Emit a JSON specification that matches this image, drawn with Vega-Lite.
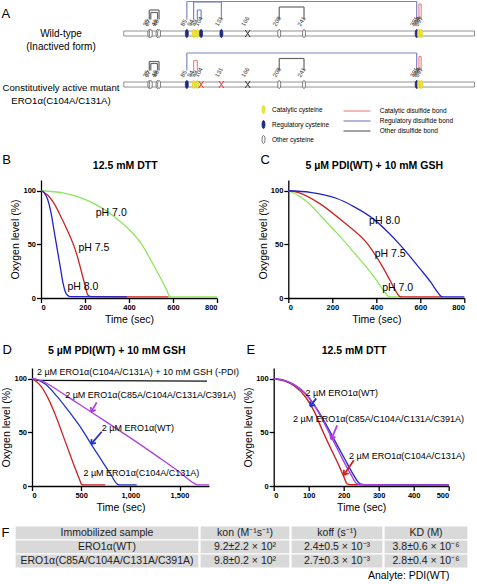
{
"$schema": "https://vega.github.io/schema/vega-lite/v6.json",
"padding": 0,
"config": {
  "font": "Liberation Sans",
  "view": {"stroke": null},
  "axis": {"domainColor": "#000", "domainWidth": 1.3, "tickColor": "#000", "tickWidth": 1.3, "tickSize": 4.5, "labelFontSize": 7.5, "labelFontWeight": "bold", "labelColor": "#000", "labelPadding": 1, "titleFontSize": 10.5, "titleFontWeight": "normal", "titleColor": "#000", "grid": false},
  "axisY": {"titlePadding": 2},
  "axisX": {"titlePadding": 3},
  "title": {"color": "#000"},
  "text": {"color": "#000"}
},
"datasets": {
  "protein": [{"row": "WT", "start": 1, "end": 468}, {"row": "Mut", "start": 1, "end": 468}],
  "cys": [
    {"row": "WT", "res": 35, "kind": "Other cysteine"}, {"row": "WT", "res": 37, "kind": "Other cysteine"}, {"row": "WT", "res": 46, "kind": "Other cysteine"}, {"row": "WT", "res": 48, "kind": "Other cysteine"},
    {"row": "WT", "res": 85, "kind": "Regulatory cysteine"}, {"row": "WT", "res": 94, "kind": "Catalytic cysteine"}, {"row": "WT", "res": 99, "kind": "Catalytic cysteine"}, {"row": "WT", "res": 104, "kind": "Regulatory cysteine"}, {"row": "WT", "res": 131, "kind": "Regulatory cysteine"},
    {"row": "WT", "res": 166, "kind": "Unpaired"}, {"row": "WT", "res": 208, "kind": "Other cysteine"}, {"row": "WT", "res": 241, "kind": "Other cysteine"},
    {"row": "WT", "res": 391, "kind": "Regulatory cysteine"}, {"row": "WT", "res": 394, "kind": "Catalytic cysteine"}, {"row": "WT", "res": 397, "kind": "Catalytic cysteine"},
    {"row": "Mut", "res": 35, "kind": "Other cysteine"}, {"row": "Mut", "res": 37, "kind": "Other cysteine"}, {"row": "Mut", "res": 46, "kind": "Other cysteine"}, {"row": "Mut", "res": 48, "kind": "Other cysteine"},
    {"row": "Mut", "res": 85, "kind": "Regulatory cysteine"}, {"row": "Mut", "res": 94, "kind": "Catalytic cysteine"}, {"row": "Mut", "res": 99, "kind": "Catalytic cysteine"}, {"row": "Mut", "res": 104, "kind": "Mutated"}, {"row": "Mut", "res": 131, "kind": "Mutated"},
    {"row": "Mut", "res": 166, "kind": "Unpaired"}, {"row": "Mut", "res": 208, "kind": "Other cysteine"}, {"row": "Mut", "res": 241, "kind": "Other cysteine"},
    {"row": "Mut", "res": 391, "kind": "Regulatory cysteine"}, {"row": "Mut", "res": 394, "kind": "Catalytic cysteine"}, {"row": "Mut", "res": 397, "kind": "Catalytic cysteine"}
  ],
  "bonds": [
    {"row": "WT", "from": 35, "to": 48, "h": 23.5, "bond": "Other disulfide bond"},
    {"row": "WT", "from": 37, "to": 46, "h": 21, "bond": "Other disulfide bond"},
    {"row": "WT", "from": 85, "to": 391, "h": 32, "bond": "Regulatory disulfide bond"},
    {"row": "WT", "from": 94, "to": 131, "h": 31.5, "bond": "Regulatory disulfide bond"},
    {"row": "WT", "from": 99, "to": 104, "h": 23.5, "bond": "Regulatory disulfide bond"},
    {"row": "WT", "from": 208, "to": 241, "h": 26.5, "bond": "Other disulfide bond"},
    {"row": "WT", "from": 394, "to": 397, "h": 29.5, "bond": "Catalytic disulfide bond"},
    {"row": "Mut", "from": 35, "to": 48, "h": 23, "bond": "Other disulfide bond"},
    {"row": "Mut", "from": 37, "to": 46, "h": 21, "bond": "Other disulfide bond"},
    {"row": "Mut", "from": 85, "to": 391, "h": 31.5, "bond": "Regulatory disulfide bond"},
    {"row": "Mut", "from": 94, "to": 99, "h": 24, "bond": "Catalytic disulfide bond"},
    {"row": "Mut", "from": 208, "to": 241, "h": 26, "bond": "Other disulfide bond"},
    {"row": "Mut", "from": 394, "to": 397, "h": 28, "bond": "Catalytic disulfide bond"}
  ],
  "curvesB": [
    {"s": "pH 7.0", "t": 0, "o2": 100}, {"s": "pH 7.0", "t": 100, "o2": 98}, {"s": "pH 7.0", "t": 200, "o2": 92}, {"s": "pH 7.0", "t": 276, "o2": 84}, {"s": "pH 7.0", "t": 350, "o2": 73}, {"s": "pH 7.0", "t": 400, "o2": 64}, {"s": "pH 7.0", "t": 458, "o2": 50}, {"s": "pH 7.0", "t": 500, "o2": 35}, {"s": "pH 7.0", "t": 540, "o2": 20}, {"s": "pH 7.0", "t": 570, "o2": 8}, {"s": "pH 7.0", "t": 586, "o2": 1.5}, {"s": "pH 7.0", "t": 600, "o2": 1}, {"s": "pH 7.0", "t": 800, "o2": 1},
    {"s": "pH 7.5", "t": 0, "o2": 100}, {"s": "pH 7.5", "t": 30, "o2": 96}, {"s": "pH 7.5", "t": 60, "o2": 88}, {"s": "pH 7.5", "t": 90, "o2": 76}, {"s": "pH 7.5", "t": 120, "o2": 63}, {"s": "pH 7.5", "t": 147, "o2": 50}, {"s": "pH 7.5", "t": 165, "o2": 39}, {"s": "pH 7.5", "t": 182, "o2": 26}, {"s": "pH 7.5", "t": 200, "o2": 12}, {"s": "pH 7.5", "t": 214, "o2": 2.5}, {"s": "pH 7.5", "t": 230, "o2": 1.2}, {"s": "pH 7.5", "t": 580, "o2": 1},
    {"s": "pH 8.0", "t": 0, "o2": 100}, {"s": "pH 8.0", "t": 15, "o2": 98}, {"s": "pH 8.0", "t": 30, "o2": 92}, {"s": "pH 8.0", "t": 45, "o2": 80}, {"s": "pH 8.0", "t": 60, "o2": 62}, {"s": "pH 8.0", "t": 70, "o2": 50}, {"s": "pH 8.0", "t": 80, "o2": 38}, {"s": "pH 8.0", "t": 90, "o2": 26}, {"s": "pH 8.0", "t": 100, "o2": 14}, {"s": "pH 8.0", "t": 110, "o2": 6}, {"s": "pH 8.0", "t": 120, "o2": 2.5}, {"s": "pH 8.0", "t": 135, "o2": 1.2}, {"s": "pH 8.0", "t": 390, "o2": 1}
  ],
  "labB": [{"t": 249, "o2": 79, "label": "pH 7.0"}, {"t": 170, "o2": 47, "label": "pH 7.5"}, {"t": 120, "o2": 10.5, "label": "pH 8.0"}],
  "curvesC": [
    {"s": "pH 7.0", "t": 0, "o2": 100}, {"s": "pH 7.0", "t": 50, "o2": 95}, {"s": "pH 7.0", "t": 100, "o2": 87}, {"s": "pH 7.0", "t": 150, "o2": 76}, {"s": "pH 7.0", "t": 200, "o2": 65}, {"s": "pH 7.0", "t": 250, "o2": 54}, {"s": "pH 7.0", "t": 300, "o2": 42}, {"s": "pH 7.0", "t": 350, "o2": 30}, {"s": "pH 7.0", "t": 400, "o2": 17}, {"s": "pH 7.0", "t": 440, "o2": 5}, {"s": "pH 7.0", "t": 455, "o2": 1.5}, {"s": "pH 7.0", "t": 470, "o2": 1}, {"s": "pH 7.0", "t": 520, "o2": 1},
    {"s": "pH 7.5", "t": 0, "o2": 100}, {"s": "pH 7.5", "t": 50, "o2": 98}, {"s": "pH 7.5", "t": 143, "o2": 88}, {"s": "pH 7.5", "t": 250, "o2": 71}, {"s": "pH 7.5", "t": 362, "o2": 50}, {"s": "pH 7.5", "t": 420, "o2": 32}, {"s": "pH 7.5", "t": 461, "o2": 17}, {"s": "pH 7.5", "t": 490, "o2": 6}, {"s": "pH 7.5", "t": 506, "o2": 1.5}, {"s": "pH 7.5", "t": 520, "o2": 1}, {"s": "pH 7.5", "t": 700, "o2": 1},
    {"s": "pH 8.0", "t": 0, "o2": 100}, {"s": "pH 8.0", "t": 100, "o2": 98.5}, {"s": "pH 8.0", "t": 218, "o2": 93}, {"s": "pH 8.0", "t": 300, "o2": 85}, {"s": "pH 8.0", "t": 385, "o2": 74}, {"s": "pH 8.0", "t": 450, "o2": 62}, {"s": "pH 8.0", "t": 506, "o2": 50}, {"s": "pH 8.0", "t": 560, "o2": 37}, {"s": "pH 8.0", "t": 600, "o2": 27}, {"s": "pH 8.0", "t": 650, "o2": 14}, {"s": "pH 8.0", "t": 680, "o2": 5}, {"s": "pH 8.0", "t": 695, "o2": 1.5}, {"s": "pH 8.0", "t": 710, "o2": 1}, {"s": "pH 8.0", "t": 800, "o2": 1}
  ],
  "labC": [{"t": 367, "o2": 72, "label": "pH 8.0"}, {"t": 393, "o2": 41, "label": "pH 7.5"}, {"t": 427, "o2": 9, "label": "pH 7.0"}],
  "curvesD": [
    {"s": "-PDI", "t": 0, "o2": 100}, {"s": "-PDI", "t": 60, "o2": 98.5}, {"s": "-PDI", "t": 1780, "o2": 97.8},
    {"s": "C104A/C131A", "t": 0, "o2": 100}, {"s": "C104A/C131A", "t": 50, "o2": 97}, {"s": "C104A/C131A", "t": 100, "o2": 92}, {"s": "C104A/C131A", "t": 168, "o2": 81}, {"s": "C104A/C131A", "t": 230, "o2": 68}, {"s": "C104A/C131A", "t": 304, "o2": 50}, {"s": "C104A/C131A", "t": 360, "o2": 36}, {"s": "C104A/C131A", "t": 420, "o2": 21}, {"s": "C104A/C131A", "t": 480, "o2": 7}, {"s": "C104A/C131A", "t": 505, "o2": 1.5}, {"s": "C104A/C131A", "t": 520, "o2": 1}, {"s": "C104A/C131A", "t": 745, "o2": 1},
    {"s": "WT", "t": 0, "o2": 100}, {"s": "WT", "t": 60, "o2": 99}, {"s": "WT", "t": 135, "o2": 95}, {"s": "WT", "t": 250, "o2": 84}, {"s": "WT", "t": 330, "o2": 75}, {"s": "WT", "t": 405, "o2": 66}, {"s": "WT", "t": 500, "o2": 54}, {"s": "WT", "t": 601, "o2": 39}, {"s": "WT", "t": 700, "o2": 25}, {"s": "WT", "t": 800, "o2": 11}, {"s": "WT", "t": 870, "o2": 1.5}, {"s": "WT", "t": 885, "o2": 1}, {"s": "WT", "t": 1065, "o2": 1},
    {"s": "C85A/C104A/C131A/C391A", "t": 0, "o2": 100}, {"s": "C85A/C104A/C131A/C391A", "t": 100, "o2": 98}, {"s": "C85A/C104A/C131A/C391A", "t": 200, "o2": 93}, {"s": "C85A/C104A/C131A/C391A", "t": 300, "o2": 87}, {"s": "C85A/C104A/C131A/C391A", "t": 400, "o2": 81}, {"s": "C85A/C104A/C131A/C391A", "t": 500, "o2": 75}, {"s": "C85A/C104A/C131A/C391A", "t": 601, "o2": 69}, {"s": "C85A/C104A/C131A/C391A", "t": 800, "o2": 57}, {"s": "C85A/C104A/C131A/C391A", "t": 1080, "o2": 40}, {"s": "C85A/C104A/C131A/C391A", "t": 1300, "o2": 26}, {"s": "C85A/C104A/C131A/C391A", "t": 1500, "o2": 13}, {"s": "C85A/C104A/C131A/C391A", "t": 1670, "o2": 1.5}, {"s": "C85A/C104A/C131A/C391A", "t": 1690, "o2": 1}, {"s": "C85A/C104A/C131A/C391A", "t": 1800, "o2": 1}
  ],
  "labD": [
    {"t": 50, "o2": 106, "label": "2 µM ERO1α(C104A/C131A) + 10 mM GSH (-PDI)"},
    {"t": 337, "o2": 85, "label": "2 µM ERO1α(C85A/C104A/C131A/C391A)"},
    {"t": 709, "o2": 53.8, "label": "2 µM ERO1α(WT)"},
    {"t": 523, "o2": 12, "label": "2 µM ERO1α(C104A/C131A)"}
  ],
  "arrD": [
    {"s": "C85A/C104A/C131A/C391A", "t": 658, "o2": 78, "t2": 601, "o22": 69},
    {"s": "C85A/C104A/C131A/C391A", "t": 601, "o2": 69, "t2": 647, "o22": 71},
    {"s": "C85A/C104A/C131A/C391A", "t": 601, "o2": 69, "t2": 597, "o22": 73.7},
    {"s": "WT", "t": 709, "o2": 50.6, "t2": 601, "o22": 39},
    {"s": "WT", "t": 601, "o2": 39, "t2": 650, "o22": 40.2},
    {"s": "WT", "t": 601, "o2": 39, "t2": 606, "o22": 43.7}
  ],
  "curvesE": [
    {"s": "C104A/C131A", "t": 0, "o2": 100}, {"s": "C104A/C131A", "t": 30, "o2": 98}, {"s": "C104A/C131A", "t": 60, "o2": 93}, {"s": "C104A/C131A", "t": 91, "o2": 83}, {"s": "C104A/C131A", "t": 115, "o2": 70}, {"s": "C104A/C131A", "t": 139, "o2": 52}, {"s": "C104A/C131A", "t": 160, "o2": 37}, {"s": "C104A/C131A", "t": 185, "o2": 20}, {"s": "C104A/C131A", "t": 200, "o2": 9}, {"s": "C104A/C131A", "t": 210, "o2": 2}, {"s": "C104A/C131A", "t": 220, "o2": 1.2}, {"s": "C104A/C131A", "t": 500, "o2": 1},
    {"s": "WT", "t": 0, "o2": 100}, {"s": "WT", "t": 30, "o2": 98.5}, {"s": "WT", "t": 60, "o2": 94}, {"s": "WT", "t": 91, "o2": 86}, {"s": "WT", "t": 120, "o2": 73.5}, {"s": "WT", "t": 162, "o2": 50}, {"s": "WT", "t": 185, "o2": 36}, {"s": "WT", "t": 205, "o2": 24}, {"s": "WT", "t": 225, "o2": 12}, {"s": "WT", "t": 247, "o2": 2}, {"s": "WT", "t": 260, "o2": 1.2}, {"s": "WT", "t": 500, "o2": 1},
    {"s": "C85A/C104A/C131A/C391A", "t": 0, "o2": 100}, {"s": "C85A/C104A/C131A/C391A", "t": 30, "o2": 98.5}, {"s": "C85A/C104A/C131A/C391A", "t": 60, "o2": 94}, {"s": "C85A/C104A/C131A/C391A", "t": 91, "o2": 86}, {"s": "C85A/C104A/C131A/C391A", "t": 120, "o2": 73}, {"s": "C85A/C104A/C131A/C391A", "t": 158, "o2": 50}, {"s": "C85A/C104A/C131A/C391A", "t": 180, "o2": 36}, {"s": "C85A/C104A/C131A/C391A", "t": 200, "o2": 23}, {"s": "C85A/C104A/C131A/C391A", "t": 220, "o2": 11}, {"s": "C85A/C104A/C131A/C391A", "t": 238, "o2": 2}, {"s": "C85A/C104A/C131A/C391A", "t": 250, "o2": 1.2}, {"s": "C85A/C104A/C131A/C391A", "t": 500, "o2": 1}
  ],
  "labE": [
    {"t": 91, "o2": 86.5, "label": "2 µM ERO1α(WT)"},
    {"t": 55, "o2": 62, "label": "2 µM ERO1α(C85A/C104A/C131A/C391A)"},
    {"t": 215, "o2": 28, "label": "2 µM ERO1α(C104A/C131A)"}
  ],
  "arrE": [
    {"s": "WT", "t": 121.5, "o2": 81.7, "t2": 104.4, "o22": 74.2},
    {"s": "WT", "t": 104.4, "o2": 74.2, "t2": 117.9, "o22": 75.7},
    {"s": "WT", "t": 104.4, "o2": 74.2, "t2": 104.9, "o22": 78.9},
    {"s": "C85A/C104A/C131A/C391A", "t": 181.4, "o2": 56.6, "t2": 164.2, "o22": 43.4},
    {"s": "C85A/C104A/C131A/C391A", "t": 164.2, "o2": 43.4, "t2": 176.3, "o22": 45.9},
    {"s": "C85A/C104A/C131A/C391A", "t": 164.2, "o2": 43.4, "t2": 161.3, "o22": 48.0},
    {"s": "C104A/C131A", "t": 229, "o2": 23.9, "t2": 200.5, "o22": 10.4},
    {"s": "C104A/C131A", "t": 200.5, "o2": 10.4, "t2": 213.9, "o22": 12.0},
    {"s": "C104A/C131A", "t": 200.5, "o2": 10.4, "t2": 200.5, "o22": 15.1}
  ],
  "table": [
    {"col": 1, "r": 0, "text": "Immobilized sample"}, {"col": 1, "r": 1, "text": "ERO1α(WT)"}, {"col": 1, "r": 2, "text": "ERO1α(C85A/C104A/C131A/C391A)"},
    {"col": 2, "r": 0, "text": "kon (M⁻¹s⁻¹)"}, {"col": 2, "r": 1, "text": "9.2±2.2 × 10²"}, {"col": 2, "r": 2, "text": "9.8±0.2 × 10²"},
    {"col": 3, "r": 0, "text": "koff (s⁻¹)"}, {"col": 3, "r": 1, "text": "2.4±0.5 × 10⁻³"}, {"col": 3, "r": 2, "text": "2.7±0.3 × 10⁻³"},
    {"col": 4, "r": 0, "text": "KD (M)"}, {"col": 4, "r": 1, "text": "3.8±0.6 × 10⁻⁶"}, {"col": 4, "r": 2, "text": "2.8±0.4 × 10⁻⁶"}
  ]
},
"spacing": 7,
"resolve": {"scale": {"color": "independent", "fill": "independent", "stroke": "independent"}, "legend": {"color": "independent", "fill": "independent", "stroke": "independent"}},
"vconcat": [
  {
    "spacing": 0,
    "resolve": {"scale": {"color": "independent", "fill": "independent", "stroke": "independent"}, "legend": {"color": "independent", "fill": "independent", "stroke": "independent"}},
    "hconcat": [
      {"width": 1, "height": 1, "data": {"values": []}, "mark": "point"},
      {
        "spacing": 10,
        "bounds": "flush",
        "resolve": {"scale": {"color": "independent", "fill": "independent", "stroke": "independent"}, "legend": {"color": "independent", "fill": "independent", "stroke": "independent"}},
        "vconcat": [
          {
            "width": 353, "height": 41,
            "layer": [
              {"data": {"name": "protein"}, "transform": [{"filter": "datum.row == 'WT'"}],
               "mark": {"type": "rect", "height": 5, "fill": "white", "stroke": "#777", "strokeWidth": 0.8},
               "encoding": {
                 "x": {"field": "start", "type": "quantitative", "scale": {"domain": [0, 470], "nice": false, "zero": false},
                       "axis": {"orient": "top", "title": "A", "values": [], "domain": false, "ticks": false, "labels": false, "grid": false, "titleX": -122, "titleY": 16, "titleAlign": "left", "titleBaseline": "alphabetic", "titleAngle": 0, "titleFontSize": 13, "titleFontWeight": "normal"}},
                 "x2": {"field": "end"},
                 "y": {"datum": 0, "type": "quantitative", "scale": {"domain": [-8.5, 32.5], "nice": false, "zero": false},
                       "axis": {"title": ["Wild-type", "(Inactived form)"], "values": [], "domain": false, "ticks": false, "labels": false, "grid": false, "titleAngle": 0, "titleAlign": "center", "titleBaseline": "middle", "titleX": -62.5, "titleY": 32.5, "titleFontSize": 10, "titleFontWeight": "normal", "titleLineHeight": 13}}
               }},
              {"data": {"name": "bonds"}, "transform": [{"filter": "datum.row == 'WT'"}],
               "mark": {"type": "rule", "strokeWidth": 1.2},
               "encoding": {"x": {"field": "from", "type": "quantitative"}, "y": {"field": "h", "type": "quantitative"}, "y2": {"datum": 14},
                 "color": {"field": "bond", "type": "nominal", "scale": {"domain": ["Catalytic disulfide bond", "Regulatory disulfide bond", "Other disulfide bond"], "range": ["#e88a8a", "#7c84c4", "#666666"]}, "legend": null}}},
              {"data": {"name": "bonds"}, "transform": [{"filter": "datum.row == 'WT'"}],
               "mark": {"type": "rule", "strokeWidth": 1.2},
               "encoding": {"x": {"field": "to", "type": "quantitative"}, "y": {"field": "h", "type": "quantitative"}, "y2": {"datum": 14},
                 "color": {"field": "bond", "type": "nominal"}}},
              {"data": {"name": "bonds"}, "transform": [{"filter": "datum.row == 'WT'"}],
               "mark": {"type": "rule", "strokeWidth": 1.2},
               "encoding": {"x": {"field": "from", "type": "quantitative"}, "x2": {"field": "to"}, "y": {"field": "h", "type": "quantitative"},
                 "color": {"field": "bond", "type": "nominal"}}},
              {"data": {"name": "cys"}, "transform": [{"filter": "datum.row == 'WT' && indexof(['Catalytic cysteine','Regulatory cysteine','Other cysteine'], datum.kind) >= 0"}],
               "mark": {"type": "point", "shape": "M0,-1C0.5,-1 0.5,1 0,1C-0.5,1 -0.5,-1 0,-1Z", "size": 64, "filled": true, "strokeWidth": 0.8, "opacity": 1},
               "encoding": {"x": {"field": "res", "type": "quantitative"}, "y": {"datum": 0, "type": "quantitative"},
                 "fill": {"field": "kind", "type": "nominal", "scale": {"domain": ["Catalytic cysteine", "Regulatory cysteine", "Other cysteine"], "range": ["#f2e33b", "#1c2a80", "#ffffff"]}, "legend": null},
                 "stroke": {"field": "kind", "type": "nominal", "scale": {"domain": ["Catalytic cysteine", "Regulatory cysteine", "Other cysteine"], "range": ["#e0cf2a", "#1c2a80", "#555555"]}, "legend": null}}},
              {"data": {"name": "cys"}, "transform": [{"filter": "datum.row == 'WT' && (datum.kind == 'Unpaired' || datum.kind == 'Mutated')"}],
               "mark": {"type": "point", "shape": "M-0.7,-1L0.7,1M0.7,-1L-0.7,1", "size": 49, "strokeWidth": 1, "filled": false, "opacity": 1},
               "encoding": {"x": {"field": "res", "type": "quantitative"}, "y": {"datum": 0, "type": "quantitative"},
                 "stroke": {"condition": {"test": "datum.kind == 'Mutated'", "value": "#e03a3a"}, "value": "#333333"}}},
              {"data": {"name": "cys"}, "transform": [{"filter": "datum.row == 'WT'"}],
               "mark": {"type": "text", "angle": 300, "align": "left", "baseline": "middle", "dx": 4.3, "dy": -8.1, "fontSize": 6, "color": "#333"},
               "encoding": {"x": {"field": "res", "type": "quantitative"}, "y": {"datum": 0, "type": "quantitative"}, "text": {"field": "res", "type": "nominal"}}}
            ]
          },
          {
            "width": 353, "height": 41,
            "layer": [
              {"data": {"name": "protein"}, "transform": [{"filter": "datum.row == 'Mut'"}],
               "mark": {"type": "rect", "height": 5, "fill": "white", "stroke": "#777", "strokeWidth": 0.8},
               "encoding": {
                 "x": {"field": "start", "type": "quantitative", "scale": {"domain": [0, 470], "nice": false, "zero": false}, "axis": null},
                 "x2": {"field": "end"},
                 "y": {"datum": 0, "type": "quantitative", "scale": {"domain": [-8.5, 32.5], "nice": false, "zero": false},
                       "axis": {"title": ["Constitutively active mutant", "ERO1α(C104A/C131A)"], "values": [], "domain": false, "ticks": false, "labels": false, "grid": false, "titleAngle": 0, "titleAlign": "center", "titleBaseline": "middle", "titleX": -62.5, "titleY": 35.5, "titleFontSize": 9.6, "titleFontWeight": "normal", "titleLineHeight": 13}}
               }},
              {"data": {"name": "bonds"}, "transform": [{"filter": "datum.row == 'Mut'"}],
               "mark": {"type": "rule", "strokeWidth": 1.2},
               "encoding": {"x": {"field": "from", "type": "quantitative"}, "y": {"field": "h", "type": "quantitative"}, "y2": {"datum": 14},
                 "color": {"field": "bond", "type": "nominal", "scale": {"domain": ["Catalytic disulfide bond", "Regulatory disulfide bond", "Other disulfide bond"], "range": ["#e88a8a", "#7c84c4", "#666666"]},
                   "legend": {"orient": "none", "legendX": 228, "legendY": 53, "title": null, "symbolType": "M-2.7,0L2.7,0", "symbolSize": 100, "symbolStrokeWidth": 1.2, "labelFontSize": 6.5, "labelOffset": 16.7, "rowPadding": 0, "padding": 0}}}},
              {"data": {"name": "bonds"}, "transform": [{"filter": "datum.row == 'Mut'"}],
               "mark": {"type": "rule", "strokeWidth": 1.2},
               "encoding": {"x": {"field": "to", "type": "quantitative"}, "y": {"field": "h", "type": "quantitative"}, "y2": {"datum": 14},
                 "color": {"field": "bond", "type": "nominal"}}},
              {"data": {"name": "bonds"}, "transform": [{"filter": "datum.row == 'Mut'"}],
               "mark": {"type": "rule", "strokeWidth": 1.2},
               "encoding": {"x": {"field": "from", "type": "quantitative"}, "x2": {"field": "to"}, "y": {"field": "h", "type": "quantitative"},
                 "color": {"field": "bond", "type": "nominal"}}},
              {"data": {"name": "cys"}, "transform": [{"filter": "datum.row == 'Mut' && indexof(['Catalytic cysteine','Regulatory cysteine','Other cysteine'], datum.kind) >= 0"}],
               "mark": {"type": "point", "shape": "M0,-1C0.5,-1 0.5,1 0,1C-0.5,1 -0.5,-1 0,-1Z", "size": 64, "filled": true, "strokeWidth": 0.8, "opacity": 1},
               "encoding": {"x": {"field": "res", "type": "quantitative"}, "y": {"datum": 0, "type": "quantitative"},
                 "fill": {"field": "kind", "type": "nominal", "scale": {"domain": ["Catalytic cysteine", "Regulatory cysteine", "Other cysteine"], "range": ["#f2e33b", "#1c2a80", "#ffffff"]},
                   "legend": {"orient": "none", "legendX": 136, "legendY": 53, "title": null, "symbolType": "M0,-1C0.5,-1 0.5,1 0,1C-0.5,1 -0.5,-1 0,-1Z", "symbolSize": 64, "symbolStrokeWidth": 0.8, "labelFontSize": 6.5, "labelOffset": 4, "rowPadding": 2, "padding": 0}},
                 "stroke": {"field": "kind", "type": "nominal", "scale": {"domain": ["Catalytic cysteine", "Regulatory cysteine", "Other cysteine"], "range": ["#e0cf2a", "#1c2a80", "#555555"]},
                   "legend": {"orient": "none", "legendX": 136, "legendY": 53, "title": null, "symbolType": "M0,-1C0.5,-1 0.5,1 0,1C-0.5,1 -0.5,-1 0,-1Z", "symbolSize": 64, "symbolStrokeWidth": 0.8, "labelFontSize": 6.5, "labelOffset": 4, "rowPadding": 2, "padding": 0}}}},
              {"data": {"name": "cys"}, "transform": [{"filter": "datum.row == 'Mut' && (datum.kind == 'Unpaired' || datum.kind == 'Mutated')"}],
               "mark": {"type": "point", "shape": "M-0.7,-1L0.7,1M0.7,-1L-0.7,1", "size": 49, "strokeWidth": 1, "filled": false, "opacity": 1},
               "encoding": {"x": {"field": "res", "type": "quantitative"}, "y": {"datum": 0, "type": "quantitative"},
                 "stroke": {"condition": {"test": "datum.kind == 'Mutated'", "value": "#e03a3a"}, "value": "#333333"}}},
              {"data": {"name": "cys"}, "transform": [{"filter": "datum.row == 'Mut'"}],
               "mark": {"type": "text", "angle": 300, "align": "left", "baseline": "middle", "dx": 4.3, "dy": -8.1, "fontSize": 6, "color": "#333"},
               "encoding": {"x": {"field": "res", "type": "quantitative"}, "y": {"datum": 0, "type": "quantitative"}, "text": {"field": "res", "type": "nominal"}}}
            ]
          }
        ]
      }
    ]
  },
  {
    "spacing": 18,
    "resolve": {"scale": {"color": "independent"}, "legend": {"color": "independent"}},
    "vconcat": [
      {
        "spacing": 0,
        "resolve": {"scale": {"color": "independent"}, "legend": {"color": "independent"}},
        "hconcat": [
          {"width": 1, "height": 1, "data": {"values": []}, "mark": "point"},
          {
            "spacing": 37.3,
            "resolve": {"scale": {"color": "independent"}, "legend": {"color": "independent"}},
            "hconcat": [
              {
                "width": 176, "height": 118,
                "resolve": {"axis": {"x": "independent", "y": "independent"}},
                "layer": [
                  {"data": {"name": "curvesB"}, "mark": {"type": "line", "strokeWidth": 1.3, "interpolate": "monotone"},
                   "encoding": {
                     "x": {"field": "t", "type": "quantitative", "scale": {"domain": [0, 800], "nice": false}, "axis": {"values": [0, 200, 400, 600, 800], "title": "Time (sec)"}},
                     "y": {"field": "o2", "type": "quantitative", "scale": {"domain": [0, 110], "nice": false}, "axis": {"values": [0, 50, 100], "title": "Oxygen level (%)"}},
                     "color": {"field": "s", "type": "nominal", "scale": {"domain": ["pH 7.0", "pH 7.5", "pH 8.0"], "range": ["#8ee65c", "#cc2222", "#2222cc"]}, "legend": null}}},
                  {"data": {"name": "labB"}, "mark": {"type": "text", "align": "left", "baseline": "middle", "fontSize": 10.5},
                   "encoding": {
                     "x": {"field": "t", "type": "quantitative", "axis": {"orient": "top", "title": "12.5 mM DTT", "values": [], "domain": false, "ticks": false, "labels": false, "titleX": 83.7, "titleY": -11.5, "titleAlign": "center", "titleBaseline": "alphabetic", "titleAngle": 0, "titleFontSize": 10.5, "titleFontWeight": "bold"}},
                     "y": {"field": "o2", "type": "quantitative", "axis": {"orient": "right", "title": "B", "values": [], "domain": false, "ticks": false, "labels": false, "titleX": -215.3, "titleY": -17, "titleAlign": "left", "titleBaseline": "alphabetic", "titleAngle": 0, "titleFontSize": 13, "titleFontWeight": "normal"}},
                     "text": {"field": "label"}}}
                ]
              },
              {
                "width": 176, "height": 118,
                "resolve": {"axis": {"x": "independent", "y": "independent"}},
                "layer": [
                  {"data": {"name": "curvesC"}, "mark": {"type": "line", "strokeWidth": 1.3, "interpolate": "monotone"},
                   "encoding": {
                     "x": {"field": "t", "type": "quantitative", "scale": {"domain": [0, 800], "nice": false}, "axis": {"values": [0, 200, 400, 600, 800], "title": "Time (sec)"}},
                     "y": {"field": "o2", "type": "quantitative", "scale": {"domain": [0, 110], "nice": false}, "axis": {"values": [0, 50, 100], "title": "Oxygen level (%)"}},
                     "color": {"field": "s", "type": "nominal", "scale": {"domain": ["pH 7.0", "pH 7.5", "pH 8.0"], "range": ["#8ee65c", "#cc2222", "#2222cc"]}, "legend": null}}},
                  {"data": {"name": "labC"}, "mark": {"type": "text", "align": "left", "baseline": "middle", "fontSize": 10.5},
                   "encoding": {
                     "x": {"field": "t", "type": "quantitative", "axis": {"orient": "top", "title": "5 µM PDI(WT) + 10 mM GSH", "values": [], "domain": false, "ticks": false, "labels": false, "titleX": 85.4, "titleY": -11.5, "titleAlign": "center", "titleBaseline": "alphabetic", "titleAngle": 0, "titleFontSize": 10.5, "titleFontWeight": "bold"}},
                     "y": {"field": "o2", "type": "quantitative", "axis": {"orient": "right", "title": "C", "values": [], "domain": false, "ticks": false, "labels": false, "titleX": -204.3, "titleY": -17, "titleAlign": "left", "titleBaseline": "alphabetic", "titleAngle": 0, "titleFontSize": 13, "titleFontWeight": "normal"}},
                     "text": {"field": "label"}}}
                ]
              }
            ]
          }
        ]
      },
      {
        "spacing": 12,
        "resolve": {"scale": {"color": "independent"}, "legend": {"color": "independent"}},
        "vconcat": [
          {
            "spacing": 0,
            "resolve": {"scale": {"color": "independent"}, "legend": {"color": "independent"}},
            "hconcat": [
              {"width": 1, "height": 1, "data": {"values": []}, "mark": "point"},
              {
                "spacing": 2.7,
                "resolve": {"scale": {"color": "independent"}, "legend": {"color": "independent"}},
                "hconcat": [
                  {
                    "width": 177, "height": 118,
                    "resolve": {"axis": {"x": "independent", "y": "independent"}},
                    "layer": [
                      {"data": {"name": "curvesD"}, "mark": {"type": "line", "strokeWidth": 1.3, "interpolate": "monotone"},
                       "encoding": {
                         "x": {"field": "t", "type": "quantitative", "scale": {"domain": [0, 1800], "nice": false}, "axis": {"values": [0, 500, 1000, 1500], "title": "Time (sec)"}},
                         "y": {"field": "o2", "type": "quantitative", "scale": {"domain": [0, 110], "nice": false}, "axis": {"values": [0, 50, 100], "title": "Oxygen level (%)"}},
                         "color": {"field": "s", "type": "nominal", "scale": {"domain": ["-PDI", "C104A/C131A", "WT", "C85A/C104A/C131A/C391A"], "range": ["#111111", "#cc2222", "#2233cc", "#b03ee0"]}, "legend": null}}},
                      {"data": {"name": "arrD"}, "mark": {"type": "rule", "strokeWidth": 1.8},
                       "encoding": {"x": {"field": "t", "type": "quantitative", "axis": null}, "y": {"field": "o2", "type": "quantitative", "axis": null}, "x2": {"field": "t2"}, "y2": {"field": "o22"}, "color": {"field": "s", "type": "nominal"}}},
                      {"data": {"name": "labD"}, "mark": {"type": "text", "align": "left", "baseline": "middle", "fontSize": 9},
                       "encoding": {
                         "x": {"field": "t", "type": "quantitative", "axis": {"orient": "top", "title": "5 µM PDI(WT) + 10 mM GSH", "values": [], "domain": false, "ticks": false, "labels": false, "titleX": 84.3, "titleY": -15, "titleAlign": "center", "titleBaseline": "alphabetic", "titleAngle": 0, "titleFontSize": 10.5, "titleFontWeight": "bold"}},
                         "y": {"field": "o2", "type": "quantitative", "axis": {"orient": "right", "title": "D", "values": [], "domain": false, "ticks": false, "labels": false, "titleX": -207, "titleY": -14.7, "titleAlign": "left", "titleBaseline": "alphabetic", "titleAngle": 0, "titleFontSize": 13, "titleFontWeight": "normal"}},
                         "text": {"field": "label"}}}
                    ]
                  },
                  {
                    "width": 175, "height": 118,
                    "resolve": {"axis": {"x": "independent", "y": "independent"}},
                    "layer": [
                      {"data": {"name": "curvesE"}, "mark": {"type": "line", "strokeWidth": 1.4, "interpolate": "monotone"},
                       "encoding": {
                         "x": {"field": "t", "type": "quantitative", "scale": {"domain": [0, 500], "nice": false}, "axis": {"values": [0, 100, 200, 300, 400, 500], "title": "Time (sec)"}},
                         "y": {"field": "o2", "type": "quantitative", "scale": {"domain": [0, 110], "nice": false}, "axis": {"values": [0, 50, 100], "title": "Oxygen level (%)"}},
                         "color": {"field": "s", "type": "nominal", "scale": {"domain": ["C104A/C131A", "WT", "C85A/C104A/C131A/C391A"], "range": ["#cc2222", "#2233cc", "#b03ee0"]}, "legend": null}}},
                      {"data": {"name": "arrE"}, "mark": {"type": "rule", "strokeWidth": 1.8},
                       "encoding": {"x": {"field": "t", "type": "quantitative", "axis": null}, "y": {"field": "o2", "type": "quantitative", "axis": null}, "x2": {"field": "t2"}, "y2": {"field": "o22"}, "color": {"field": "s", "type": "nominal"}}},
                      {"data": {"name": "labE"}, "mark": {"type": "text", "align": "left", "baseline": "middle", "fontSize": 9},
                       "encoding": {
                         "x": {"field": "t", "type": "quantitative", "axis": {"orient": "top", "title": "12.5 mM DTT", "values": [], "domain": false, "ticks": false, "labels": false, "titleX": 79.8, "titleY": -15, "titleAlign": "center", "titleBaseline": "alphabetic", "titleAngle": 0, "titleFontSize": 10.5, "titleFontWeight": "bold"}},
                         "y": {"field": "o2", "type": "quantitative", "axis": {"orient": "right", "title": "E", "values": [], "domain": false, "ticks": false, "labels": false, "titleX": -202.7, "titleY": -14.7, "titleAlign": "left", "titleBaseline": "alphabetic", "titleAngle": 0, "titleFontSize": 13, "titleFontWeight": "normal"}},
                         "text": {"field": "label"}}}
                    ]
                  }
                ]
              }
            ]
          },
          {
            "spacing": 0,
            "hconcat": [
              {"width": 1, "height": 1, "data": {"values": []}, "mark": "point"},
              {
                "spacing": -2,
                "title": {"text": "Analyte: PDI(WT)", "orient": "bottom", "anchor": "end", "fontSize": 10.5, "fontWeight": "normal", "baseline": "top", "offset": 2, "dx": -19},
                "hconcat": [
                  {"width": 184, "height": 42, "data": {"name": "table"}, "transform": [{"filter": "datum.col == 1"}],
                   "layer": [
                     {"mark": {"type": "rect", "fill": "#d9d9d9", "stroke": "white", "strokeWidth": 1.2},
                      "encoding": {"y": {"field": "r", "type": "ordinal", "scale": {"domain": [0, 1, 2], "paddingInner": 0, "paddingOuter": 0},
                        "axis": {"title": "F", "labels": false, "ticks": false, "domain": false, "titleAngle": 0, "titleX": -14, "titleY": 10, "titleAlign": "left", "titleBaseline": "alphabetic", "titleFontSize": 13, "titleFontWeight": "normal"}}}},
                     {"mark": {"type": "text", "fontSize": 10.5, "color": "#222"}, "encoding": {"y": {"field": "r", "type": "ordinal"}, "text": {"field": "text"}}}
                   ]},
                  {"width": 90, "height": 42, "data": {"name": "table"}, "transform": [{"filter": "datum.col == 2"}],
                   "layer": [
                     {"mark": {"type": "rect", "fill": "#d9d9d9", "stroke": "white", "strokeWidth": 1.2}, "encoding": {"y": {"field": "r", "type": "ordinal", "scale": {"domain": [0, 1, 2], "paddingInner": 0, "paddingOuter": 0}, "axis": null}}},
                     {"mark": {"type": "text", "fontSize": 10.5, "color": "#222"}, "encoding": {"y": {"field": "r", "type": "ordinal", "axis": null}, "text": {"field": "text"}}}
                   ]},
                  {"width": 92, "height": 42, "data": {"name": "table"}, "transform": [{"filter": "datum.col == 3"}],
                   "layer": [
                     {"mark": {"type": "rect", "fill": "#d9d9d9", "stroke": "white", "strokeWidth": 1.2}, "encoding": {"y": {"field": "r", "type": "ordinal", "scale": {"domain": [0, 1, 2], "paddingInner": 0, "paddingOuter": 0}, "axis": null}}},
                     {"mark": {"type": "text", "fontSize": 10.5, "color": "#222"}, "encoding": {"y": {"field": "r", "type": "ordinal", "axis": null}, "text": {"field": "text"}}}
                   ]},
                  {"width": 84, "height": 42, "data": {"name": "table"}, "transform": [{"filter": "datum.col == 4"}],
                   "layer": [
                     {"mark": {"type": "rect", "fill": "#d9d9d9", "stroke": "white", "strokeWidth": 1.2}, "encoding": {"y": {"field": "r", "type": "ordinal", "scale": {"domain": [0, 1, 2], "paddingInner": 0, "paddingOuter": 0}, "axis": null}}},
                     {"mark": {"type": "text", "fontSize": 10.5, "color": "#222"}, "encoding": {"y": {"field": "r", "type": "ordinal", "axis": null}, "text": {"field": "text"}}}
                   ]}
                ]
              }
            ]
          }
        ]
      }
    ]
  }
]
}
